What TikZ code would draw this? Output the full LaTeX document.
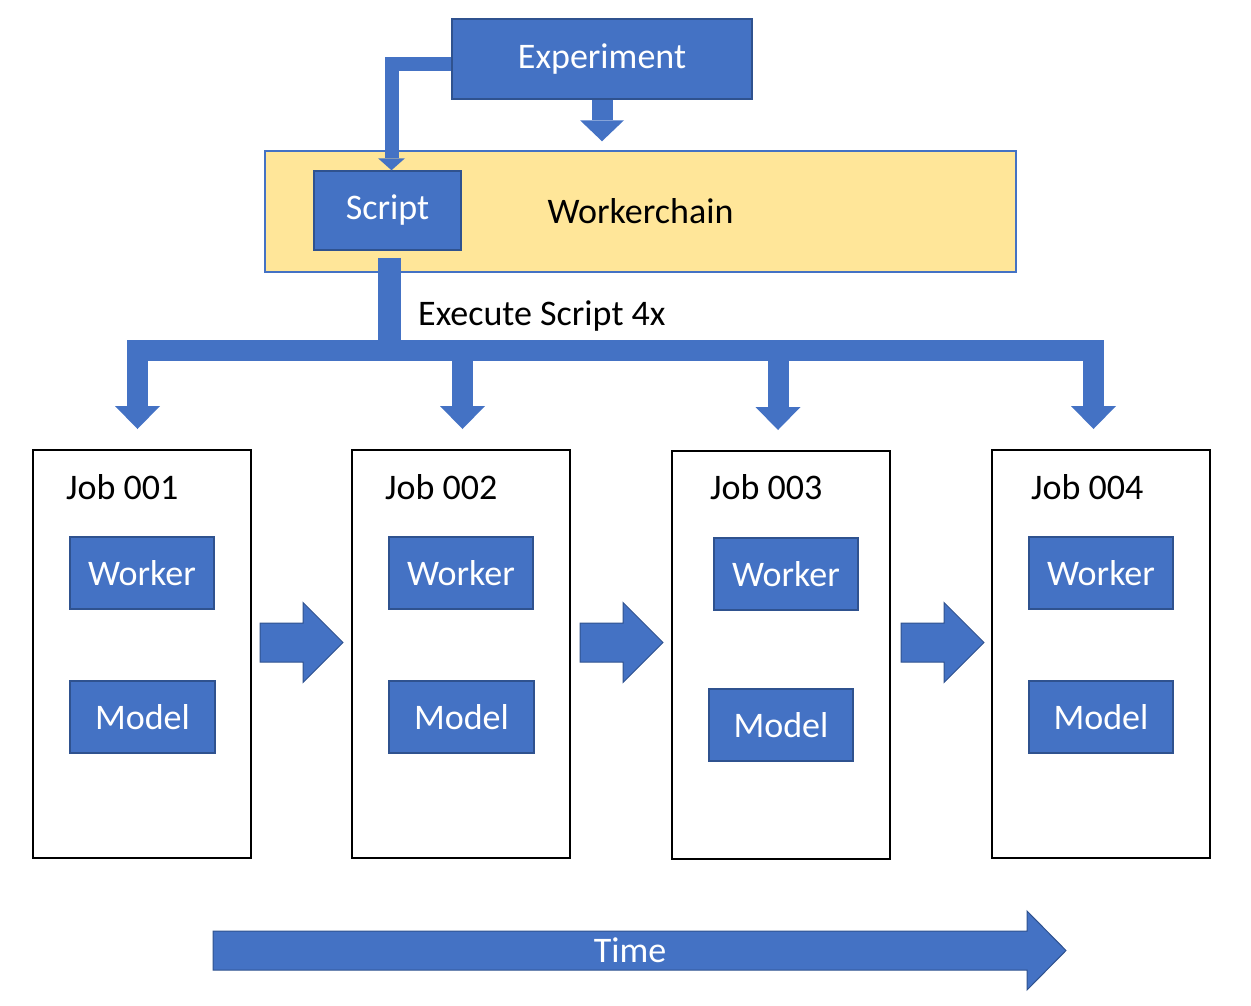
\documentclass[tikz,border=0pt]{standalone}
\usepackage{fontspec}
\setmainfont{Carlito}
\usetikzlibrary{arrows.meta}
\definecolor{ablue}{HTML}{4472C4}
\definecolor{dblue}{HTML}{2F528F}
\definecolor{ayel}{HTML}{FFE699}
\begin{document}
\begin{tikzpicture}[x=1pt,y=-1pt,
  every node/.style={font=\fontsize{36}{43}\selectfont, inner sep=0pt},
  bbox/.style={rectangle, fill=ablue, draw=dblue, line width=1.5pt, text=white},
  jobbox/.style={rectangle, draw=black, line width=2pt, fill=white, minimum width=218pt, minimum height=408pt},
  wbox/.style={bbox, minimum width=144pt, minimum height=72pt},
  fat/.style={draw=ablue, line join=miter},
  blockarrow/.style={fill=ablue, draw=dblue, line width=1pt, line join=miter},
  rarrow/.pic={\draw[blockarrow] (0,-19.5) -- (43,-19.5) -- (43,-40) -- (83,0) -- (43,40) -- (43,19.5) -- (0,19.5) -- cycle;}]
\useasboundingbox (0,0) rectangle (1251,1005);

% top boxes
\node[bbox, minimum width=300pt, minimum height=80pt] (exp) at (602,59) {Experiment};
\node[rectangle, fill=ayel, draw=ablue, line width=1.5pt, minimum width=751pt, minimum height=121pt] (wc) at (640.5,211.5) {Workerchain};
\node[bbox, minimum width=147pt, minimum height=79pt] (script) at (387.5,210.5) {Script};

% jobs
\node[jobbox] (j1) at (142,654) {};
\node[jobbox] (j2) at (460.5,654) {};
\node[jobbox] (j3) at (780.5,655) {};
\node[jobbox] (j4) at (1100.5,654) {};

\node[anchor=west] (l1) at (66,487) {Job 001};
\node[anchor=west] (l2) at (385,487) {Job 002};
\node[anchor=west] (l3) at (710,487) {Job 003};
\node[anchor=west] (l4) at (1031,487) {Job 004};

\node[wbox] (w1) at (142,573) {Worker};
\node[wbox] (w2) at (461,573) {Worker};
\node[wbox] (w3) at (786,574) {Worker};
\node[wbox] (w4) at (1101,573) {Worker};

\node[wbox, minimum width=145pt] (m1) at (142.5,717) {Model};
\node[wbox, minimum width=145pt] (m2) at (461.5,717) {Model};
\node[wbox] (m3) at (781,725) {Model};
\node[wbox] (m4) at (1101,717) {Model};

% experiment -> workerchain
\draw[fat, line width=21pt, -{Triangle[width=44pt,length=21pt,line width=0pt]}, shorten >=9pt]
  (exp.south) -- (exp.south |- wc.north);
% experiment -> script (elbow)
\draw[fat, line width=14pt, -{Triangle[width=27pt,length=12pt,line width=0pt]}]
  ([yshift=-5pt]exp.west) -| ([xshift=4pt]script.north);

% script -> jobs
\coordinate (bar) at (0,350.5);
\coordinate (b1) at (137.5,340);
\coordinate (b2) at (462.5,340);
\coordinate (b3) at (778,340);
\coordinate (b4) at (1093.5,340);
\draw[fat, line width=23pt, shorten <=7pt] ([xshift=2pt]script.south) -- ([xshift=2pt]script.south |- bar);
\draw[fat, line width=21pt] ([xshift=-10.5pt]b1 |- bar) -- ([xshift=10.5pt]b4 |- bar);
\foreach \i in {1,2,3,4}{
  \draw[fat, line width=21pt, -{Triangle[width=45pt,length=23pt,line width=0pt]}, shorten >=20pt]
    (b\i) -- (b\i |- j\i.north);
}
\node[anchor=west] (exec) at (418,316) {Execute Script 4x};

% job -> job arrows
\pic at (260,642.5) {rarrow};
\pic at (580,642.5) {rarrow};
\pic at (901,642.5) {rarrow};

% time arrow
\draw[blockarrow] (213,931) -- (1027,931) -- (1027,911) -- (1066,950.5) -- (1027,990) -- (1027,970) -- (213,970) -- cycle;
\node[text=white] (time) at (630,950) {Time};
\end{tikzpicture}
\end{document}
